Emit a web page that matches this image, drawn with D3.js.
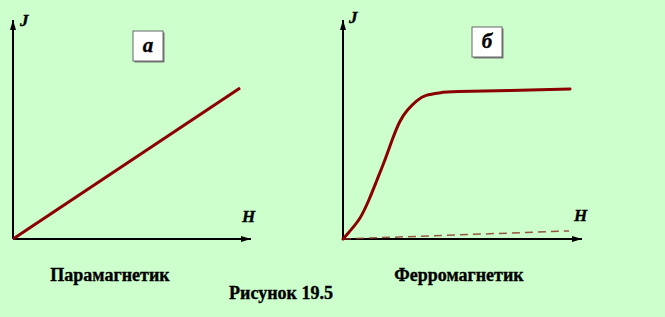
<!DOCTYPE html>
<html><head><meta charset="utf-8">
<script src="https://cdn.jsdelivr.net/npm/d3@7"></script>
<style>html,body{margin:0;padding:0;background:#ccffcc;}svg{display:block;}</style>
</head><body>
<svg id="c" width="665" height="317"></svg>
<script>
// Data
const panelLabels = ["а", "б"];
const panelTitles = ["Парамагнетик", "Ферромагнетик"];
const caption = "Рисунок 19.5";
const axisLabels = ["J", "H"];
// Paramagnet: straight line (H, J)
const paraH = [0, 95.4];
const paraJ = [0, 69];
// Ferromagnet magnetisation curve (H, J)
const ferroH = [0, 2.1, 7.1, 10.9, 14.2, 17.6, 20.5, 23.8, 26.8, 31.0, 34.3, 40.6, 44.8, 69.9, 95];
const ferroJ = [0, 2.7, 8.7, 17.8, 26.9, 36.1, 45.2, 54.3, 58.9, 63.5, 65.8, 66.8, 67.3, 67.8, 68.5];
// Ferromagnet dashed weak linear line
const dashH = [0, 94.6];
const dashJ = [0, 3.7];

const FONT = "Liberation Serif";
const svg = d3.select("#c");
const defs = svg.append("defs");
defs.append("marker").attr("id","arr").attr("viewBox","0 0 10 6").attr("refX",10).attr("refY",3)
  .attr("markerWidth",10).attr("markerHeight",6).attr("markerUnits","userSpaceOnUse").attr("orient","auto")
  .append("path").attr("d","M0,0L10,3L0,6Z").attr("fill","#000");

function txt(g, x, y, s, size, italic, anchor) {
  return g.append("text").attr("x",x).attr("y",y).text(s)
    .attr("font-family",FONT).attr("font-weight","bold").attr("font-style",italic?"italic":"normal")
    .attr("font-size",size).attr("text-anchor",anchor||"start")
    .attr("fill","#000").attr("stroke","#000").attr("stroke-width",0.35);
}

const panels = [
  {x0:13, x1:251, y0:239, y1:20, box:[133,31], title:[110,281], jx:20, jy:26, hx:242, hy:222},
  {x0:343, x1:582, y0:239, y1:20, box:[472,27], title:[459,281], jx:349, jy:23, hx:574, hy:221}
];

panels.forEach((p, i) => {
  const x = d3.scaleLinear().domain([0,100]).range([p.x0, p.x1]);
  const y = d3.scaleLinear().domain([0,100]).range([p.y0, p.y1]);
  const g = svg.append("g");
  g.append("line").attr("x1",x(0)).attr("y1",y(0)).attr("x2",x(0)).attr("y2",y(100))
    .attr("stroke","#000").attr("stroke-width",2).attr("marker-end","url(#arr)");
  g.append("line").attr("x1",x(0)).attr("y1",y(0)).attr("x2",x(100)).attr("y2",y(0))
    .attr("stroke","#000").attr("stroke-width",2).attr("marker-end","url(#arr)");
  const line = d3.line().x(d=>x(d[0])).y(d=>y(d[1]));
  if (i === 0) {
    g.append("path").attr("d", line(d3.zip(paraH, paraJ))).attr("fill","none")
      .attr("stroke","#8b0000").attr("stroke-width",3);
  } else {
    g.append("path").attr("d", line(d3.zip(dashH, dashJ))).attr("fill","none")
      .attr("stroke","#8b3a2a").attr("stroke-width",1.5).attr("stroke-dasharray","8,5").attr("opacity",0.85);
    g.append("path").attr("d", line.curve(d3.curveBasis)(d3.zip(ferroH, ferroJ))).attr("fill","none")
      .attr("stroke","#8b0000").attr("stroke-width",3).attr("stroke-linecap","round");
  }
  txt(g, p.jx, p.jy, axisLabels[0], 17, true);
  txt(g, p.hx, p.hy, axisLabels[1], 17, true);
  g.append("rect").attr("x",p.box[0]+1.5).attr("y",p.box[1]+1.5).attr("width",30).attr("height",30).attr("fill","#777");
  g.append("rect").attr("x",p.box[0]).attr("y",p.box[1]).attr("width",30).attr("height",30)
    .attr("fill","#fff").attr("stroke","#666").attr("stroke-width",1);
  txt(g, p.box[0]+15, p.box[1]+21, panelLabels[i], 21, true, "middle");
  txt(g, p.title[0], p.title[1], panelTitles[i], 18, false, "middle");
});
txt(svg, 281, 299, caption, 18, false, "middle");
</script>
</body></html>
